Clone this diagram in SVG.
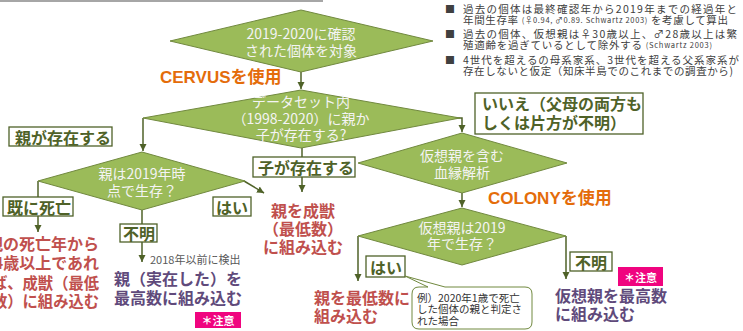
<svg xmlns="http://www.w3.org/2000/svg" width="743" height="331" viewBox="0 0 743 331">
<style>
.dia{fill:#9BBB59;stroke:#71893F;stroke-width:1}
.dt{font-family:"Noto Sans CJK JP","Noto Sans",sans-serif;font-size:14px;fill:#F4F4F4;text-anchor:middle;dominant-baseline:central}
.lb{fill:#FFFFFF;stroke:#4F6228;stroke-width:1.3}
.lt{font-family:"Noto Sans CJK JP","Noto Sans",sans-serif;font-size:16px;font-weight:bold;fill:#4F6228;dominant-baseline:central}
.con{fill:none;stroke:#4F6228;stroke-width:1.5}
.or{font-family:"Liberation Sans","Noto Sans CJK JP",sans-serif;font-size:17px;font-weight:bold;fill:#E46C0A;dominant-baseline:central}
.rd{font-family:"Noto Sans CJK JP","Noto Sans",sans-serif;font-size:16px;font-weight:bold;fill:#C0504D;dominant-baseline:central}
.pu{font-family:"Noto Sans CJK JP","Noto Sans",sans-serif;font-size:16px;font-weight:bold;fill:#604A7B;dominant-baseline:central}
.pk{fill:#F0047F}
.pkt{font-family:"Noto Sans CJK JP","Noto Sans",sans-serif;font-size:11px;font-weight:bold;fill:#FFFFFF;text-anchor:middle;dominant-baseline:central}
.nt{font-family:"Noto Sans CJK JP","Noto Sans",sans-serif;font-size:10.5px;fill:#404040;dominant-baseline:central}
.ns{font-size:7.5px}
.bu{font-family:"Noto Sans CJK JP","Noto Sans",sans-serif;font-size:10px;fill:#404040;dominant-baseline:central}
.gy{font-family:"Noto Sans CJK JP","Noto Sans",sans-serif;font-size:11px;fill:#595959;dominant-baseline:central}
.ct{font-family:"Noto Sans CJK JP","Noto Sans",sans-serif;font-size:10.5px;fill:#333333;dominant-baseline:central}
</style>
<defs>
<marker id="ah" markerUnits="userSpaceOnUse" markerWidth="9" markerHeight="9" refX="7" refY="4" orient="auto">
<path d="M0,0.5 L7,4 L0,7.5 Z" fill="#4F6228"/>
</marker>
</defs>
<line x1="0" y1="1" x2="323" y2="1" stroke="#A6A6A6" stroke-width="2"/>

<g id="connectors">
<path class="con" d="M301,72 V89" marker-end="url(#ah)"/>
<path class="con" d="M143,118 V151" marker-end="url(#ah)"/>
<path class="con" d="M302,148 V192" marker-end="url(#ah)"/>
<path class="con" d="M455,118 H462 V132" marker-end="url(#ah)"/>
<path class="con" d="M38,181 V232" marker-end="url(#ah)"/>
<path class="con" d="M142,210 V262" marker-end="url(#ah)"/>
<path class="con" d="M244,181 L264,193" marker-end="url(#ah)"/>
<path class="con" d="M462,193 V207" marker-end="url(#ah)"/>
<path class="con" d="M358,236 V281" marker-end="url(#ah)"/>
<path class="con" d="M566,236 V279" marker-end="url(#ah)"/>
</g>

<g id="n1">
<polygon class="dia" points="301,10 433,41 301,72 170,41"/>
<text class="dt" x="301" y="33">2019-2020に確認</text>
<text class="dt" x="301" y="50">された個体を対象</text>
</g>
<g id="cervus"><text class="or" x="160" y="77">CERVUSを使用</text></g>

<g id="n2">
<polygon class="dia" points="301,90 460,118 301,148 143,118"/>
<text class="dt" x="301" y="101">データセット内</text>
<text class="dt" x="301" y="118">（1998-2020）に親か</text>
<text class="dt" x="301" y="134">子が存在する?</text>
</g>

<g id="l-oya">
<rect class="lb" x="9" y="127" width="103" height="19"/>
<text class="lt" x="15" y="136.5">親が存在する</text>
</g>
<g id="l-ko">
<rect class="lb" x="253" y="157" width="102" height="20"/>
<text class="lt" x="258" y="167">子が存在する</text>
</g>
<g id="l-iie">
<rect class="lb" x="475" y="93" width="168" height="41"/>
<text class="lt" x="482" y="103">いいえ（父母の両方も</text>
<text class="lt" x="482" y="122">しくは片方が不明）</text>
</g>

<g id="n3">
<polygon class="dia" points="142,152 245,181 142,210 38,181"/>
<text class="dt" x="142" y="173">親は2019年時</text>
<text class="dt" x="142" y="190">点で生存？</text>
</g>
<g id="l-shibo">
<rect class="lb" x="3" y="197" width="70" height="19"/>
<text class="lt" x="7" y="206.5">既に死亡</text>
</g>
<g id="l-fumei1">
<rect class="lb" x="120" y="224" width="37" height="18"/>
<text class="lt" x="123" y="233">不明</text>
</g>
<g id="l-hai1">
<rect class="lb" x="213" y="197" width="38" height="19"/>
<text class="lt" x="216" y="206.5">はい</text>
</g>

<g id="r-shibo">
<text class="rd" x="99" y="243" text-anchor="end">親の死亡年から</text>
<text class="rd" x="99" y="262" text-anchor="end">4歳以上であれ</text>
<text class="rd" x="99" y="282" text-anchor="end" textLength="107" lengthAdjust="spacingAndGlyphs">ば、成獣（最低</text>
<text class="rd" x="99" y="300" text-anchor="end" textLength="107" lengthAdjust="spacingAndGlyphs">数）に組み込む</text>
</g>
<g id="g-2018"><text class="gy" x="150" y="259">2018年以前に検出</text></g>
<g id="p-jitsuzai">
<text class="pu" x="178" y="278" text-anchor="middle">親（実在した）を</text>
<text class="pu" x="178" y="297" text-anchor="middle">最高数に組み込む</text>
</g>
<g id="chui1">
<rect class="pk" x="195" y="312" width="46" height="16"/>
<text class="pkt" x="218" y="320">＊注意</text>
</g>
<g id="r-seiju">
<text class="rd" x="303" y="210" text-anchor="middle">親を成獣</text>
<text class="rd" x="303" y="228" text-anchor="middle">（最低数）</text>
<text class="rd" x="303" y="246" text-anchor="middle">に組み込む</text>
</g>

<g id="n4">
<polygon class="dia" points="462,133 567,163 462,193 358,163"/>
<text class="dt" x="462" y="155">仮想親を含む</text>
<text class="dt" x="462" y="172">血縁解析</text>
</g>
<g id="colony"><text class="or" x="488" y="198">COLONYを使用</text></g>

<g id="n5">
<polygon class="dia" points="462,208 566,236 462,265 358,236"/>
<text class="dt" x="462" y="227">仮想親は2019</text>
<text class="dt" x="462" y="243">年で生存？</text>
</g>
<g id="l-hai2">
<rect class="lb" x="366" y="256" width="39" height="21"/>
<text class="lt" x="370" y="266.5">はい</text>
</g>
<g id="l-fumei2">
<rect class="lb" x="570" y="252" width="42" height="19"/>
<text class="lt" x="575" y="261.5">不明</text>
</g>
<g id="chui2">
<rect class="pk" x="618" y="267" width="45" height="19"/>
<text class="pkt" x="640.5" y="276.5">＊注意</text>
</g>
<g id="r-saitei">
<text class="rd" x="314" y="297">親を最低数に</text>
<text class="rd" x="314" y="315">組み込む</text>
</g>
<g id="callout">
<path d="M419,287 L428,287 L405,276 L445,287 L525,287 Q532,287 532,294 L532,322 Q532,329 525,329 L419,329 Q412,329 412,322 L412,294 Q412,287 419,287 Z" fill="#FFFFFF" stroke="#71893F" stroke-width="1"/>
<text class="ct" x="417" y="297">例）2020年1歳で死亡</text>
<text class="ct" x="417" y="308">した個体の親と判定さ</text>
<text class="ct" x="417" y="320">れた場合</text>
</g>
<g id="p-kaso">
<text class="pu" x="555" y="295">仮想親を最高数</text>
<text class="pu" x="555" y="313">に組み込む</text>
</g>

<g id="notes">
<text class="bu" x="445" y="8">■</text>
<text class="nt" x="463" y="8" textLength="274" lengthAdjust="spacing">過去の個体は最終確認年から2019年までの経過年と</text>
<text class="nt" x="463" y="19" textLength="265" lengthAdjust="spacing">年間生存率 <tspan class="ns">(♀0.94, ♂0.89. Schwartz 2003)</tspan> を考慮して算出</text>
<text class="bu" x="445" y="33">■</text>
<text class="nt" x="463" y="33" textLength="274" lengthAdjust="spacing">過去の個体、仮想親は♀30歳以上、♂28歳以上は繁</text>
<text class="nt" x="463" y="44" textLength="249" lengthAdjust="spacing">殖適齢を過ぎているとして除外する <tspan class="ns">(Schwartz 2003)</tspan></text>
<text class="bu" x="445" y="59">■</text>
<text class="nt" x="463" y="59" textLength="276" lengthAdjust="spacing">4世代を超えるの母系家系、3世代を超える父系家系が</text>
<text class="nt" x="463" y="70" textLength="270" lengthAdjust="spacing">存在しないと仮定（知床半島でのこれまでの調査から)</text>
</g>
</svg>
